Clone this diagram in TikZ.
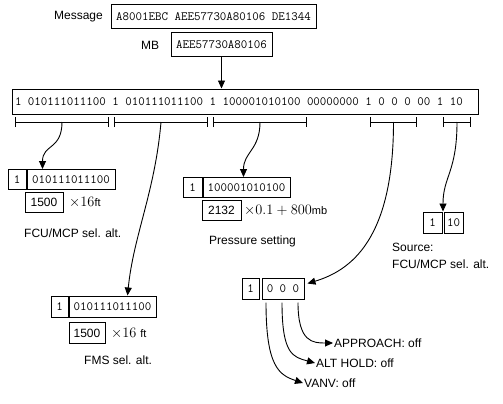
\documentclass[tikz,border=0pt]{standalone}
\usepackage{fontspec}
\setmainfont{Liberation Sans}
\usetikzlibrary{arrows.meta,calc}
\tikzset{
  mono/.style={font=\fontsize{12.6}{14}\selectfont\ttfamily},
  cellbox/.style={draw, line width=1pt, inner sep=0pt, minimum height=20pt, mono},
  valbox/.style={draw, line width=1pt, inner sep=0pt, minimum height=20pt, font=\fontsize{12}{14}\selectfont},
  lbl/.style={inner sep=1pt, font=\fontsize{12}{14}\selectfont},
  mlbl/.style={inner sep=1pt, font=\fontsize{13.5}{15}\selectfont},
  conn/.style={line width=0.9pt, -{Triangle[length=8pt,width=7pt]}},
  brk/.style={line width=0.9pt, {Bar[width=10pt]}-{Bar[width=10pt]}},
}
\newcommand{\unitfont}{\fontsize{11}{13}\selectfont}
\begin{document}
\begin{tikzpicture}[x=1pt,y=-1pt]
\useasboundingbox (0,0) rectangle (503,404);
% header
\node[lbl, anchor=east] (msglbl) at (104,17) {Message};
\node[cellbox, minimum width=205pt, minimum height=24pt] (msg) at (213.5,16.5) {A8001EBC AEE57730A80106 DE1344};
\node[lbl, anchor=west] (mblbl) at (140,45) {MB};
\node[cellbox, minimum width=101pt, minimum height=24pt] (mb) at (221.5,44.5) {AEE57730A80106};
\node[cellbox, minimum width=466pt, minimum height=25pt] (bits) at (245,101.5)
  {\makebox[460pt][l]{1 010111011100 1 010111011100 1 100001010100 00000000 1 0 0 0 00 1 10}};
\draw[conn] (mb.south) -- (mb.south |- bits.north);
% brackets
\coordinate (b1a) at (15,122);  \coordinate (b1b) at (109,122);
\coordinate (b2a) at (114,122); \coordinate (b2b) at (208,122);
\coordinate (b3a) at (213,122); \coordinate (b3b) at (307,122);
\coordinate (b4a) at (370,122); \coordinate (b4b) at (417,122);
\coordinate (b5a) at (443,122); \coordinate (b5b) at (471,122);
\foreach \i in {1,...,5}{
  \draw[brk] (b\i a) -- (b\i b);
  \coordinate (b\i m) at ($(b\i a)!0.5!(b\i b)$);
}
% FCU/MCP
\node[cellbox, minimum width=18pt] (fcu1) at (17,179.5) {1};
\node[cellbox, minimum width=88pt, anchor=west] (fcud) at (fcu1.east) {010111011100};
\node[valbox, minimum width=38pt] (fcuv) at (44,202.5) {1500};
\node[mlbl, anchor=west] (fcux) at (68,202.5) {$\times 16${\unitfont ft}};
\node[lbl, anchor=west] (fcul) at (23,233) {FCU/MCP sel. alt.};
% Pressure
\node[cellbox, minimum width=19pt] (p1) at (192.5,187.5) {1};
\node[cellbox, minimum width=87pt, anchor=west] (pd) at (p1.east) {100001010100};
\node[valbox, minimum width=39pt] (pv) at (221.5,210) {2132};
\node[mlbl, anchor=west] (px) at (243,210) {$\times 0.1+800${\unitfont mb}};
\node[lbl, anchor=west] (pl) at (208,241) {Pressure setting};
% Source
\node[cellbox, minimum width=19pt, minimum height=21pt] (s1) at (432.5,222.5) {1};
\node[cellbox, minimum width=19pt, minimum height=21pt] (s2) at (453.5,222.5) {10};
\node[lbl, anchor=west] (sl1) at (391,247) {Source:};
\node[lbl, anchor=west] (sl2) at (391,264) {FCU/MCP sel. alt.};
% status bits
\node[cellbox, minimum width=17pt, minimum height=21pt] (o1) at (250.5,288.5) {1};
\node[cellbox, minimum width=42pt, minimum height=21pt] (o2) at (283,288.5) {0 0 0};
\coordinate (otip) at ($(o2.east)+(3,-5)$);
\coordinate (t1) at ($(o2.south)+(-17,3)$);
\coordinate (t2) at ($(o2.south)+(-1,3)$);
\coordinate (t3) at ($(o2.south)+(15,3)$);
\node[lbl, anchor=west] (app) at (333,343) {APPROACH: off};
\node[lbl, anchor=west] (alt) at (315,363) {ALT HOLD: off};
\node[lbl, anchor=west] (vanv) at (303,383) {VANV: off};
% FMS
\node[cellbox, minimum width=17pt, minimum height=21pt] (f1) at (59.5,306.5) {1};
\node[cellbox, minimum width=87pt, minimum height=21pt, anchor=west] (fd) at (f1.east) {010111011100};
\node[valbox, minimum width=36pt, minimum height=21pt] (fv) at (87,333) {1500};
\node[mlbl, anchor=west] (fx) at (110,333) {$\times 16$ {\unitfont ft}};
\node[lbl, anchor=west] (fl) at (83,360) {FMS sel. alt.};
% connectors
\draw[conn] (b1m) .. controls +(0,28) and +(0,-25) .. ([xshift=16pt]fcud.north west);
\draw[conn] (b2m) .. controls +(-6,70) and +(6,-60) .. ([xshift=59pt]fd.north west);
\draw[conn] (b3m) .. controls +(0,28) and +(0,-25) .. ([xshift=41pt]pd.north west);
\draw[conn] (b4m) .. controls +(0,118) and +(43,-13) .. (otip);
\draw[conn] (b5m) .. controls +(0,50) and +(0,-35) .. ($(s1.north east)!0.5!(s2.north west)$);
\draw[conn] (t3) .. controls +(0,40) and +(-20,0) .. (app.west);
\draw[conn] (t2) .. controls +(0,52) and +(-22,-6) .. (alt.west);
\draw[conn] (t1) .. controls +(0,64) and +(-24,-8) .. (vanv.west);
\end{tikzpicture}
\end{document}
